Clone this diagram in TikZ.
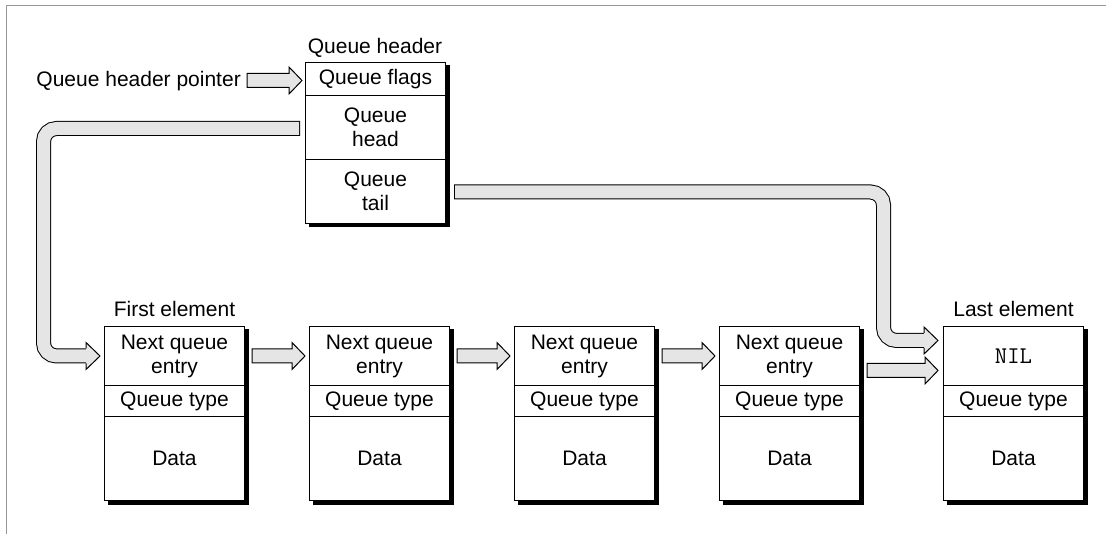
\documentclass[tikz,border=0pt]{standalone}
\usepackage{fontspec}
\setmainfont{Liberation Sans}
\usetikzlibrary{calc}
\pgfdeclarelayer{bg}
\pgfsetlayers{bg,main}
\definecolor{arrowgray}{RGB}{229,229,229}
\definecolor{framegray}{RGB}{150,150,150}
\newcommand\qf{\fontsize{21}{24}\selectfont}
\newcommand\fatarrow[2]{%
  \draw[arrowfill] ($(#1)+(0,-7)$) -- ($(#2)+(-13,-7)$) -- ($(#2)+(-13,-13.5)$) -- (#2)
    -- ($(#2)+(-13,13.5)$) -- ($(#2)+(-13,7)$) -- ($(#1)+(0,7)$) -- cycle;}
\newcommand\headfill[1]{%
  \fill[arrowgray] ($(#1)+(-14,-13.5)$) -- (#1) -- ($(#1)+(-14,13.5)$) -- cycle;}
\newcommand\headline[1]{%
  \draw[line width=1pt, line join=miter] ($(#1)+(-14,-7.5)$) -- ($(#1)+(-14,-13.5)$) -- (#1)
    -- ($(#1)+(-14,13.5)$) -- ($(#1)+(-14,7.5)$);}
\begin{document}
\begin{tikzpicture}[x=1pt,y=-1pt,
  cell/.style={draw=black, line width=1pt, fill=white, minimum width=140pt,
    inner sep=0pt, align=center, font=\qf, anchor=north west},
  lbl/.style={font=\qf, inner sep=0pt},
  arrowfill/.style={fill=arrowgray, draw=black, line width=1pt, line join=miter},
  frameline/.style={draw=framegray, line width=1.5pt},
  shaftout/.style={line width=15pt, draw=black, rounded corners=13pt},
  shaftin/.style={line width=13pt, draw=arrowgray, rounded corners=13pt}
]
\useasboundingbox (0,0) rectangle (1106,534);
\draw[frameline] (6.5,534) -- (6.5,5.5) -- (1106,5.5);

% queue header
\node[cell, minimum height=33pt] (hflags) at (305,62) {Queue flags};
\node[cell, minimum height=64pt] (hhead) at (305,95) {Queue\\head};
\node[cell, minimum height=64pt] (htail) at (305,159) {Queue\\tail};
\node[lbl, anchor=base] (hlabel) at (375,54) {Queue header};
\begin{pgfonlayer}{bg}
  \fill[black] ($(hflags.north west)+(3.5,3.5)$) rectangle ($(htail.south east)+(3.5,3.5)$);
\end{pgfonlayer}

% elements
\foreach \i/\x in {1/104,2/309,3/514,4/719,5/943}{
  \node[cell, minimum height=59pt] (e\i-a) at (\x,326) {};
  \node[cell, minimum height=31pt] (e\i-b) at (\x,385) {Queue type};
  \node[cell, minimum height=84pt] (e\i-c) at (\x,416) {Data};
  \begin{pgfonlayer}{bg}
    \fill[black] ($(e\i-a.north west)+(3.5,3.5)$) rectangle ($(e\i-c.south east)+(3.5,3.5)$);
  \end{pgfonlayer}
}
\foreach \i in {1,2,3,4}{
  \node[lbl, align=center] (t\i) at (e\i-a.center) {Next queue\\entry};
}
\node[lbl] (t5) at (e5-a.center) {\fontsize{24}{24}\selectfont\ttfamily NIL};
\node[lbl, anchor=base] (firstlbl) at ($(e1-a.north)+(0,-9)$) {First element};
\node[lbl, anchor=base] (lastlbl) at ($(e5-a.north)+(0,-9)$) {Last element};
\node[lbl, anchor=base east] (ptrlbl) at (241,87) {Queue header pointer};

% pointer arrow
\coordinate (ps) at ($(ptrlbl.east |- hflags.west)+(6,1.5)$);
\coordinate (pt) at ($(hflags.west)+(-3,1.5)$);
\fatarrow{ps}{pt}

% arrows between elements
\foreach \i/\j in {1/2,2/3,3/4}{
  \coordinate (s\i) at ($(e\i-a.east)+(7,0)$);
  \coordinate (n\j) at ($(e\j-a.west)+(-4,0)$);
  \fatarrow{s\i}{n\j}
}
\coordinate (s4) at ($(e4-a.east)+(7,14.5)$);
\coordinate (n5) at ($(e5-a.west)+(-5,14.5)$);
\fatarrow{s4}{n5}

% queue head -> first element
\coordinate (hs) at ($(hhead.west)+(-5,1)$);
\coordinate (hc) at ($(e1-a.west)+(-60.5,0)$);
\coordinate (ht) at ($(e1-a.west)+(-4,0)$);
\coordinate (hb) at ($(ht)+(-14,0)$);
\draw[shaftout] (hs) -- (hs -| hc) -- (hc |- hb) -- (hb);
\headfill{ht}
\draw[shaftin] ($(hs)+(-1,0)$) -- (hs -| hc) -- (hc |- hb) -- ($(hb)+(1,0)$);
\headline{ht}

% queue tail -> last element
\coordinate (ts) at ($(htail.east)+(8,0.5)$);
\coordinate (tc) at ($(e4-a.east)+(23.5,0)$);
\coordinate (tt) at ($(e5-a.west)+(-5,-15.5)$);
\coordinate (tb) at ($(tt)+(-14,0)$);
\draw[shaftout] (ts) -- (ts -| tc) -- (tc |- tb) -- (tb);
\headfill{tt}
\draw[shaftin] ($(ts)+(1,0)$) -- (ts -| tc) -- (tc |- tb) -- ($(tb)+(1,0)$);
\headline{tt}
\end{tikzpicture}
\end{document}
